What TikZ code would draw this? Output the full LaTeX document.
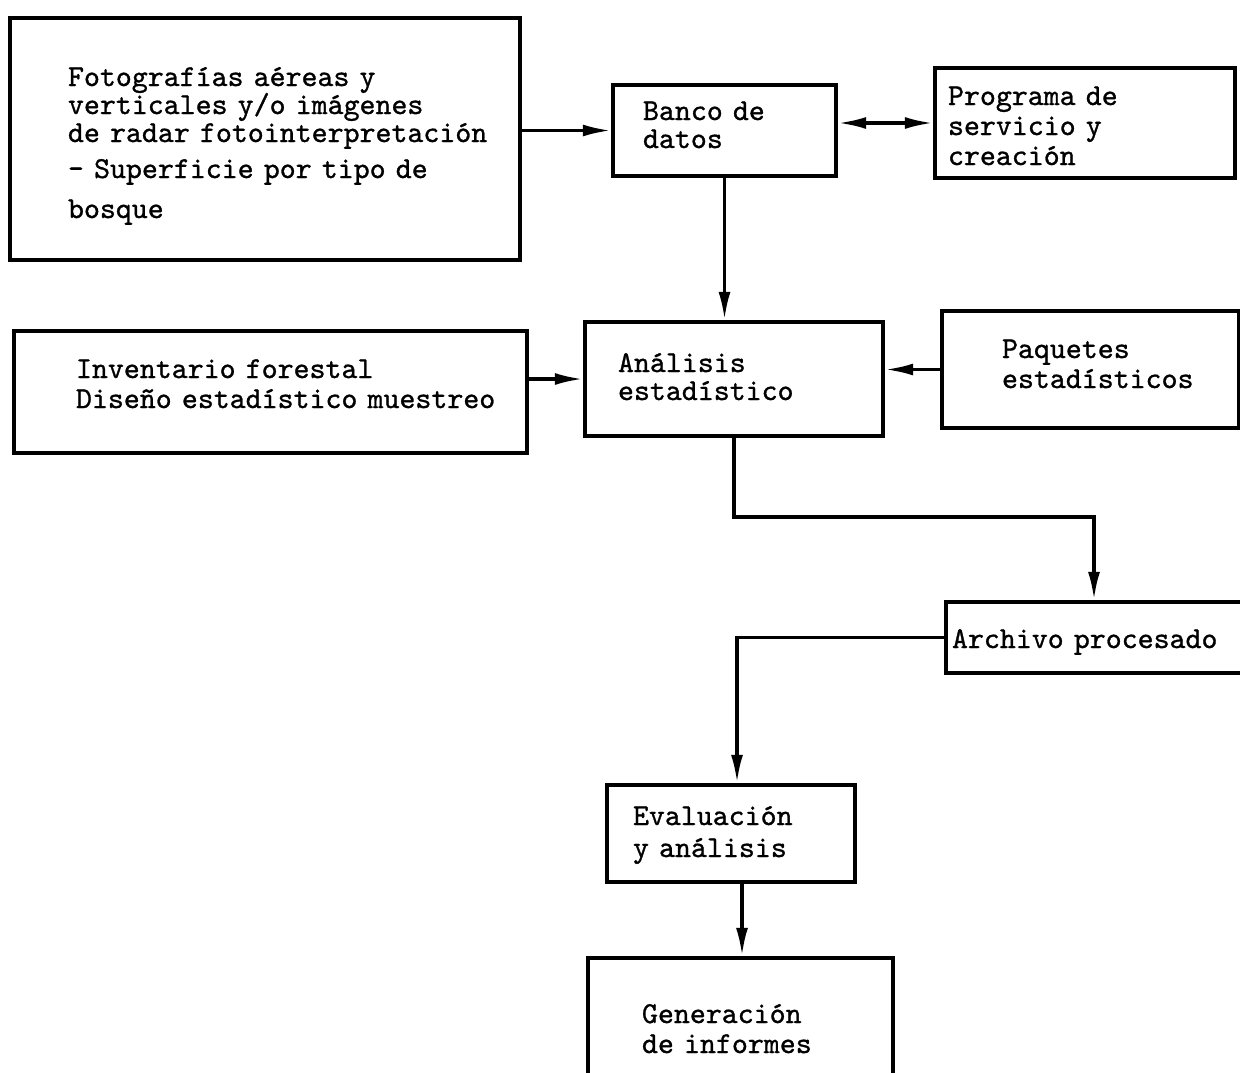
\documentclass[tikz,border=0pt]{standalone}
\usepackage{fontspec}
\newfontfamily\maquina{lmmono10-regular}[Extension=.otf, FakeBold=1]
\usetikzlibrary{arrows.meta,positioning}
\tikzset
{
    caja/.style n args = {4}{draw=black, line width=2.2pt, inner xsep=2pt, inner ysep=0pt,
        text width=#1-4pt, text height=#3, text depth=#2-#3, align=left,
        execute at begin node={\leftskip=\dimexpr#4-2pt\relax}},
    enlace/.style = {line width=1.6pt}
}

\begin{document}
\begin{tikzpicture}[x=0.5pt, y=-0.5pt, >={Latex[length=14pt,width=6pt]},
    font=\maquina\fontsize{15.2}{15}\selectfont]
    \useasboundingbox (0,0) rectangle (1240,1072);

    % columna izquierda
    \node [caja={255pt}{121pt}{34pt}{29pt}] (foto) at (265,139)
        {Fotografías aéreas y\\[-1pt] verticales y/o imágenes\\[-1pt] de radar fotointerpretación\\[3pt] - Superficie por tipo de\\[5pt] bosque};
    \node [caja={256.5pt}{61pt}{23.5pt}{31pt}] (inventario) at (270.5,392)
        {Inventario forestal\\ Diseño estadístico muestreo};

    % columna central
    \node [caja={111.5pt}{45.5pt}{17.5pt}{15pt}] (banco) at (724.5,130.5) {Banco de\\[-1pt] datos};
    \node [caja={149pt}{57pt}{25pt}{16.5pt}] (analisis) at (734,379) {Análisis\\[-1pt] estadístico};
    \node [caja={124pt}{48.5pt}{20pt}{13pt}] (evaluacion) at (731,833.5) {Evaluación\\[1pt] y análisis};
    \node [caja={152.5pt}{66pt}{32.5pt}{27pt}] (generacion) at (740.5,1024) {Generación\\ de informes};

    % columna derecha
    \node [caja={150pt}{55pt}{18.5pt}{6.5pt}] (programa) at (1085,123) {Programa de\\ servicio y\\ creación};
    \node [caja={148.5pt}{58.5pt}{23.5pt}{30pt}] (paquetes) at (1090.5,369.5) {Paquetes\\ estadísticos};
    \node [caja={154.5pt}{35.5pt}{23pt}{3pt}] (archivo) at (1100.5,637.5) {Archivo procesado};

    \coordinate (codo) at (1094,517);

    % enlaces
    \draw [enlace, ->] (banco.west -| foto.east) -- (banco.west);
    \draw [enlace, <->] (programa.west -| banco.east) -- (programa.west);
    \draw [enlace, ->] (banco.south) -- (banco.south |- analisis.north);
    \draw [enlace, ->] (analisis.west -| inventario.east) -- (analisis.west);
    \draw [enlace, ->] (paquetes.west) -- (paquetes.west -| analisis.east);
    \draw [enlace, ->] (analisis.south) |- (codo) -- (codo |- archivo.north);
    \draw [enlace, ->] (archivo.west) -| ([xshift=3pt]evaluacion.north);
    \draw [enlace, ->] ([xshift=5.5pt]evaluacion.south) -- ([xshift=5.5pt]evaluacion.south |- generacion.north);
\end{tikzpicture}
\end{document}
